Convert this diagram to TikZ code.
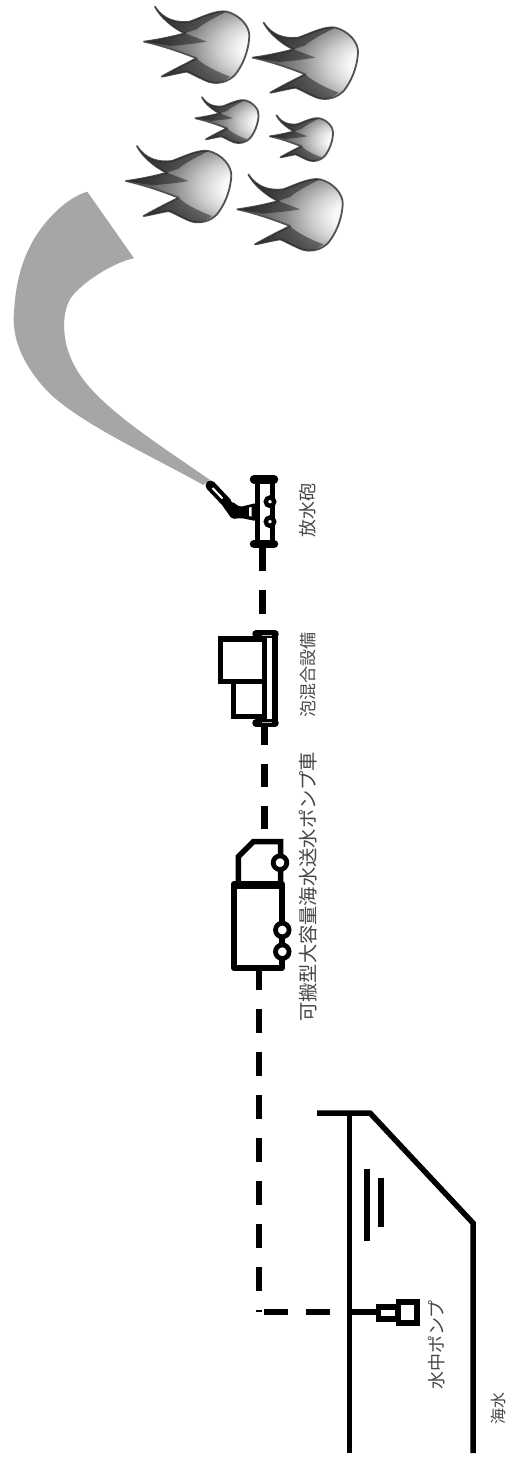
\documentclass[tikz,border=0pt]{standalone}
\usepackage{fontspec}
\newfontfamily\jpfont{Noto Sans CJK JP}
\pgfdeclareradialshading{flameshade}{\pgfpoint{32bp}{-2bp}}{%
  color(0bp)=(white);
  color(9bp)=(black!3);
  color(17bp)=(black!20);
  color(26bp)=(black!45);
  color(34bp)=(black!60);
  color(42bp)=(black!72);
  color(100bp)=(black!82)}
\tikzset{
  pipe/.style={line width=6.5pt,black},
  outline/.style={line width=5.5pt,black,line join=miter},
  wheel/.style={line width=4.8pt,black,fill=white},
  label/.style={font=\jpfont\fontsize{#1}{#1}\selectfont,text=black!72,rotate=90,inner sep=0pt},
  spray/.style={fill=black!35,draw=none},
  flameband/.style={fill=black,opacity=0.42,draw=none},
  flame/.pic={
    \path[shading=flameshade,draw=black!68,line width=1.8pt,line join=round]
      (-175,-110) .. controls (-150,-70) and (-110,-60) .. (-70,-65)
      .. controls (-30,-80) and (10,-100) .. (40,-95)
      .. controls (80,-85) and (110,-50) .. (108,-20)
      .. controls (105,30) and (85,70) .. (65,95)
      .. controls (45,115) and (15,125) .. (-15,115)
      .. controls (-40,105) and (-65,90) .. (-80,85)
      .. controls (-110,90) and (-140,98) .. (-155,100)
      .. controls (-120,80) and (-80,60) .. (-50,45)
      .. controls (-100,25) and (-160,5) .. (-208,-5)
      .. controls (-170,-10) and (-120,-20) .. (-85,-30)
      .. controls (-120,-45) and (-160,-80) .. (-175,-110) -- cycle;
    \fill[flameband] (-175,-110) .. controls (-150,-70) and (-110,-60) .. (-70,-65)
      .. controls (-30,-80) and (10,-100) .. (40,-95)
      .. controls (10,-80) and (-30,-60) .. (-50,-42)
      -- (-85,-30) .. controls (-120,-45) and (-160,-80) .. (-175,-110) -- cycle;
    \fill[flameband] (-155,100) .. controls (-120,80) and (-80,60) .. (-50,45)
      .. controls (-30,65) and (10,85) .. (50,100)
      .. controls (25,120) and (5,122) .. (-15,115)
      .. controls (-40,105) and (-65,90) .. (-80,85)
      .. controls (-110,90) and (-140,98) .. (-155,100) -- cycle;
    \fill[flameband] (-208,-5) .. controls (-170,-10) and (-120,-20) .. (-85,-30)
      .. controls (-65,-22) and (-45,-15) .. (-20,-5)
      .. controls (-60,2) and (-100,5) .. (-130,8)
      .. controls (-155,3) and (-185,-1) .. (-208,-5) -- cycle;
  }
}
\begin{document}
\begin{tikzpicture}[x=1pt,y=-1pt]
\useasboundingbox[fill=white] (0,0) rectangle (509,1461);
% fires
\pic[scale=1/3] (fireA) at (213.3,43.3) {flame};
\pic[scale=1/3] (fireB) at (322,59.3) {flame};
\pic[scale=0.2] (fireC) at (237,119.3) {flame};
\pic[scale=0.2] (fireD) at (311.5,137.3) {flame};
\pic[scale=1/3] (fireE) at (195.3,182.7) {flame};
\pic[scale=1/3] (fireF) at (306.7,211) {flame};
% named anchor points
\coordinate (monitorBase) at (262.7,547);
\coordinate (foamTop) at (262.7,633);
\coordinate (foamBase) at (264.7,727);
\coordinate (truckCab) at (264.7,842);
\coordinate (truckRear) at (259,970);
\coordinate (pipeCorner) at (259,1312);
\coordinate (shore) at (349,1312);
\coordinate (pumpInlet) at (378,1312);
% spray
\fill[spray] (87.3,191.7) -- (134,258.3)
  .. controls (115,262) and (85,280) .. (71.7,296.7)
  .. controls (62,310) and (60,340) .. (75,366.7)
  .. controls (95,405) and (160,445) .. (210,480)
  -- (203.3,485)
  .. controls (150,455) and (72,420) .. (43.3,386.7)
  .. controls (20,360) and (12,335) .. (14,313)
  .. controls (15,290) and (20,265) .. (30,246.7)
  .. controls (40,225) and (65,198) .. (87.3,191.7) -- cycle;
% pipes
\draw[pipe,dash pattern=on 24pt off 19pt] (monitorBase) -- (foamTop);
\draw[pipe,dash pattern=on 23pt off 19pt,dash phase=5pt] (foamBase) -- (truckCab);
\draw[pipe,dash pattern=on 24pt off 19pt,dash phase=4pt] (truckRear) -- (pipeCorner);
\draw[pipe,dash pattern=on 24pt off 18pt,dash phase=37pt] (pipeCorner) -- (shore);
\draw[pipe] (shore) -- (pumpInlet);
% water monitor
\draw[line width=10pt,black,line cap=round] (210.5,485.5) -- (227,503);
\draw[white,line width=2pt] (212.5,488) -- (222.5,498.5);
\fill[black,rounded corners=2pt] (222,505) -- (232,501.5) -- (240,507) -- (256,503) -- (256,521) -- (241,518) -- (232,519) -- cycle;
\fill[white] (249,507.5) -- (251.5,507) -- (251.5,516.5) -- (249,516) -- cycle;
\draw[line width=5.5pt,black] (257.5,479) -- (257.5,544);
\draw[line width=5pt,black] (272,479) -- (272,544);
\draw[line width=8.5pt,black,line cap=round] (254,479.3) -- (274,479.3);
\draw[line width=8.5pt,black,line cap=round] (254,544) -- (274,544);
\draw[line width=4.4pt,black,fill=white] (270,501.7) circle (4.2);
\draw[line width=4.4pt,black,fill=white] (270,521.7) circle (4.2);
% foam mixer
\draw[outline] (262,639) -- (220.7,639) -- (220.7,681.7) -- (262,681.7);
\draw[outline] (233.3,681.7) -- (233.3,716.7) -- (262,716.7);
\draw[outline] (264.5,635) rectangle (275,722);
\draw[line width=7.5pt,black,line cap=round] (256,634) -- (275,634);
\draw[line width=7.5pt,black,line cap=round] (256,723) -- (275,723);
\draw[black!30,line width=0.8pt] (262,635) -- (272,635);
\draw[black!30,line width=0.8pt] (262,722) -- (272,722);
% truck
\draw[pipe] (truckRear) -- ++(0,-3);
\draw[outline] (280.7,884) -- (280.7,841.7) -- (253.3,841.7) -- (238.3,856.7) -- (238.3,884);
\draw[line width=6pt,black,line join=round] (234,884) rectangle (281.7,968);
\draw[line width=8pt,black] (234,884.5) -- (281.7,884.5);
\draw[wheel] (280,862.7) circle (6.8);
\draw[wheel] (282.3,930) circle (6.8);
\draw[wheel] (282.3,951.7) circle (6.8);
% shore
\draw[outline] (317,1113) -- (370,1113) -- (473,1223) -- (473,1453);
\draw[outline] (349.3,1113) -- (349.3,1453);
\draw[line width=6pt,black] (367.3,1169) -- (367.3,1241);
\draw[line width=5.5pt,black] (381,1178) -- (381,1227);
% pump
\draw[outline] (378.5,1307) rectangle (398,1319);
\draw[outline] (398.5,1302) rectangle (417,1323);
% labels
\node[label=18] (lMonitor) at (308,510.5) {放水砲};
\node[label=17] (lFoam) at (308,675) {泡混合設備};
\node[label=19.3] (lTruck) at (308,887) {可搬型大容量海水送水ポンプ車};
\node[label=18] (lPump) at (437,1345) {水中ポンプ};
\node[label=16] (lSea) at (498,1408) {海水};
\end{tikzpicture}
\end{document}
